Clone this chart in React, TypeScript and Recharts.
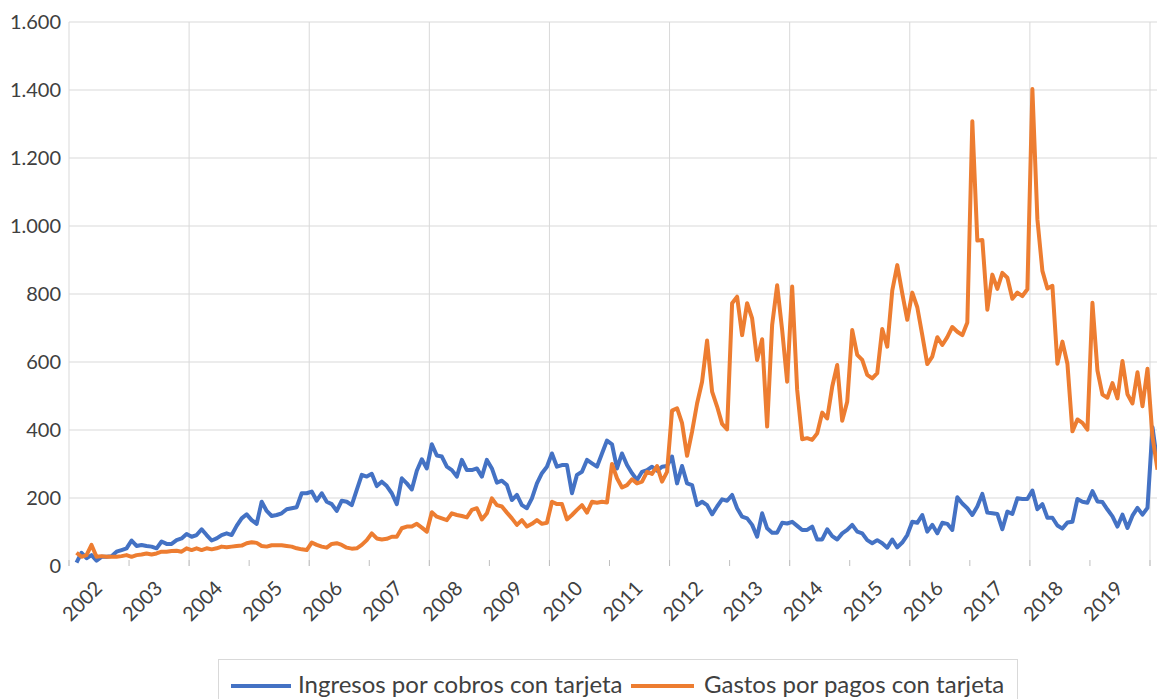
import React from 'react';
import { LineChart, Line, XAxis, YAxis, ReferenceLine, Legend } from 'recharts';

const BLUE = '#4472C4';
const ORANGE = '#ED7D31';
const GRID = '#d9d9d9';
const TEXT = '#404040';
const FONT = 'Lato, "Open Sans", sans-serif';

// serie mensual, primer dato en febrero de 2002
const START_YEAR = 2002;
const START_MONTH = 1; // 0 = enero

const ingresos = [
  10, 39, 23, 32, 16, 27, 27, 29, 42, 47, 52,
  75, 59, 62, 59, 57, 52, 72, 65, 65, 76, 81, 94,
  86, 91, 108, 91, 75, 81, 91, 96, 91, 118, 140, 152,
  135, 124, 189, 162, 147, 150, 155, 167, 170, 173, 214, 214,
  219, 192, 214, 189, 182, 162, 192, 189, 179, 224, 268, 263,
  271, 235, 248, 235, 214, 182, 258, 243, 225, 280, 314, 287,
  358, 325, 322, 292, 282, 263, 312, 282, 282, 287, 263, 312,
  287, 245, 251, 238, 194, 209, 179, 170, 199, 243, 273, 292,
  331, 292, 297, 297, 214, 268, 277, 312, 302, 292, 331, 369,
  358, 287, 331, 297, 273, 253, 277, 282, 292, 280, 292, 294,
  322, 243, 294, 243, 238, 179, 189, 179, 152, 175, 196, 192,
  209, 170, 145, 140, 121, 86, 155, 111, 98, 98, 127, 125,
  130, 118, 106, 106, 116, 78, 78, 108, 88, 78, 96, 106,
  121, 101, 96, 76, 67, 76, 67, 54, 78, 55, 69, 91,
  130, 127, 150, 101, 121, 96, 127, 124, 106, 202, 184, 170,
  150, 175, 212, 157, 155, 153, 108, 160, 153, 199, 197, 197,
  222, 167, 182, 142, 142, 119, 110, 128, 130, 197, 189, 186,
  220, 190, 188, 166, 146, 116, 151, 112, 148, 171, 151, 171,
  408, 300,
];

const gastos = [
  39, 27, 32, 62, 27, 29, 27, 27, 27, 29, 32,
  27, 32, 34, 37, 34, 37, 42, 42, 44, 45, 42, 52,
  47, 52, 47, 52, 49, 52, 57, 55, 57, 59, 60, 67,
  70, 68, 59, 57, 61, 61, 61, 59, 57, 52, 49, 47,
  69, 62, 57, 54, 65, 67, 62, 54, 51, 52, 62, 76,
  96, 81, 78, 80, 86, 86, 111, 116, 116, 124, 113, 101,
  158, 145, 140, 135, 155, 150, 147, 143, 165, 170, 137, 155,
  199, 179, 175, 157, 140, 121, 135, 116, 124, 135, 124, 127,
  189, 182, 182, 137, 150, 165, 179, 157, 189, 186, 189, 187,
  300, 258, 231, 238, 255, 243, 248, 277, 271, 294, 248, 277,
  457, 464, 420, 324, 395, 478, 542, 663, 513, 469, 418, 402,
  773, 792, 679, 773, 728, 606, 667, 410, 709, 826, 694, 542,
  822, 518, 373, 376, 371, 390, 451, 434, 527, 591, 427, 483,
  694, 621, 606, 562, 552, 567, 697, 645, 810, 885, 802, 724,
  804, 761, 679, 594, 616, 673, 650, 673, 703, 689, 679, 716,
  1308, 957, 959, 754, 857, 815, 862, 848, 786, 804, 794, 814,
  1403, 1020, 868, 816, 824, 595, 660, 595, 396, 431, 421, 401,
  774, 575, 504, 495, 538, 493, 603, 505, 478, 570, 470, 580,
  380, 283,
];

const yTicks = [0, 200, 400, 600, 800, 1000, 1200, 1400, 1600];
const yearLabels = ['2002', '2003', '2004', '2005', '2006', '2007', '2008', '2009', '2010',
  '2011', '2012', '2013', '2014', '2015', '2016', '2017', '2018', '2019'];

// meses desde enero de 2002 en que empieza cada año
const yearTicks = [...yearLabels, '2020'].map((_, i) => i * 12);
const gridTicks = yearTicks.filter((_, i) => i % 2 === 0);

const months = ingresos.map((_, k) => {
  const m = START_MONTH + k;
  return `${START_YEAR + Math.floor(m / 12)}-${String((m % 12) + 1).padStart(2, '0')}`;
});

const data = months.map((month, k) => ({
  t: START_MONTH + k + 0.5,
  month,
  ingresos: ingresos[k],
  gastos: gastos[k],
}));

const fmt = (v: number) => String(v).replace(/\B(?=(\d{3})+(?!\d))/g, '.');

const YearTick = (props: any) => {
  const { x, y, payload } = props;
  const idx = Math.round(payload.value / 12);
  const label = yearLabels[idx];
  const lx = x + 31;
  const ly = y + 20;
  return (
    <g>
      <line x1={x} x2={x} y1={y - 6} y2={y} stroke="#bfbfbf" strokeWidth={1} />
      {label && (
        <text
          x={lx}
          y={ly}
          textAnchor="end"
          dominantBaseline="middle"
          transform={`rotate(-45, ${lx}, ${ly})`}
          fill={TEXT}
          fontSize={20}
          fontFamily={FONT}
        >
          {label}
        </text>
      )}
    </g>
  );
};

const LegendBox = () => (
  <div style={{ position: 'relative', width: 798, height: 48, border: `1px solid ${GRID}`, fontFamily: FONT, fontSize: 24, color: TEXT }}>
    <div style={{ position: 'absolute', left: 12, top: 24, width: 60, height: 4, background: BLUE }} />
    <span style={{ position: 'absolute', left: 79, top: 9, whiteSpace: 'nowrap' }}>Ingresos por cobros con tarjeta</span>
    <div style={{ position: 'absolute', left: 412, top: 24, width: 63, height: 4, background: ORANGE }} />
    <span style={{ position: 'absolute', left: 485, top: 9, whiteSpace: 'nowrap' }}>Gastos por pagos con tarjeta</span>
  </div>
);

export default function App() {
  return (
    <div style={{ position: 'absolute', left: 0, top: 0, width: 1157, height: 699, overflow: 'hidden', background: '#fff', fontFamily: FONT }}>
      <LineChart width={1160} height={699} data={data} margin={{ top: 22, right: 0, left: 0, bottom: 0 }}>
        <XAxis
          type="number"
          dataKey="t"
          domain={[0, 218]}
          ticks={yearTicks}
          interval={0}
          axisLine={false}
          tickLine={false}
          tickSize={0}
          tickMargin={0}
          height={133}
          tick={<YearTick />}
          allowDataOverflow
        />
        <YAxis
          domain={[0, 1600]}
          ticks={yTicks}
          interval={0}
          width={69}
          axisLine={false}
          tickLine={false}
          tickFormatter={fmt}
          tick={{ fill: TEXT, fontSize: 20, fontFamily: FONT }}
        />
        {yTicks.filter((v) => v > 0).map((v) => (
          <ReferenceLine key={`h${v}`} y={v} stroke={GRID} strokeWidth={1} />
        ))}
        {gridTicks.map((v) => (
          <ReferenceLine key={`v${v}`} x={v} stroke={GRID} strokeWidth={1} />
        ))}
        <Line type="linear" dataKey="ingresos" name="Ingresos por cobros con tarjeta" stroke={BLUE} strokeWidth={4} dot={false} strokeLinejoin="round" isAnimationActive={false} />
        <Line type="linear" dataKey="gastos" name="Gastos por pagos con tarjeta" stroke={ORANGE} strokeWidth={4} dot={false} strokeLinejoin="round" isAnimationActive={false} />
        <Legend
          layout="horizontal"
          verticalAlign="middle"
          align="center"
          content={<LegendBox />}
          wrapperStyle={{ left: 218, top: 659, width: 800, height: 50 }}
        />
      </LineChart>
    </div>
  );
}
